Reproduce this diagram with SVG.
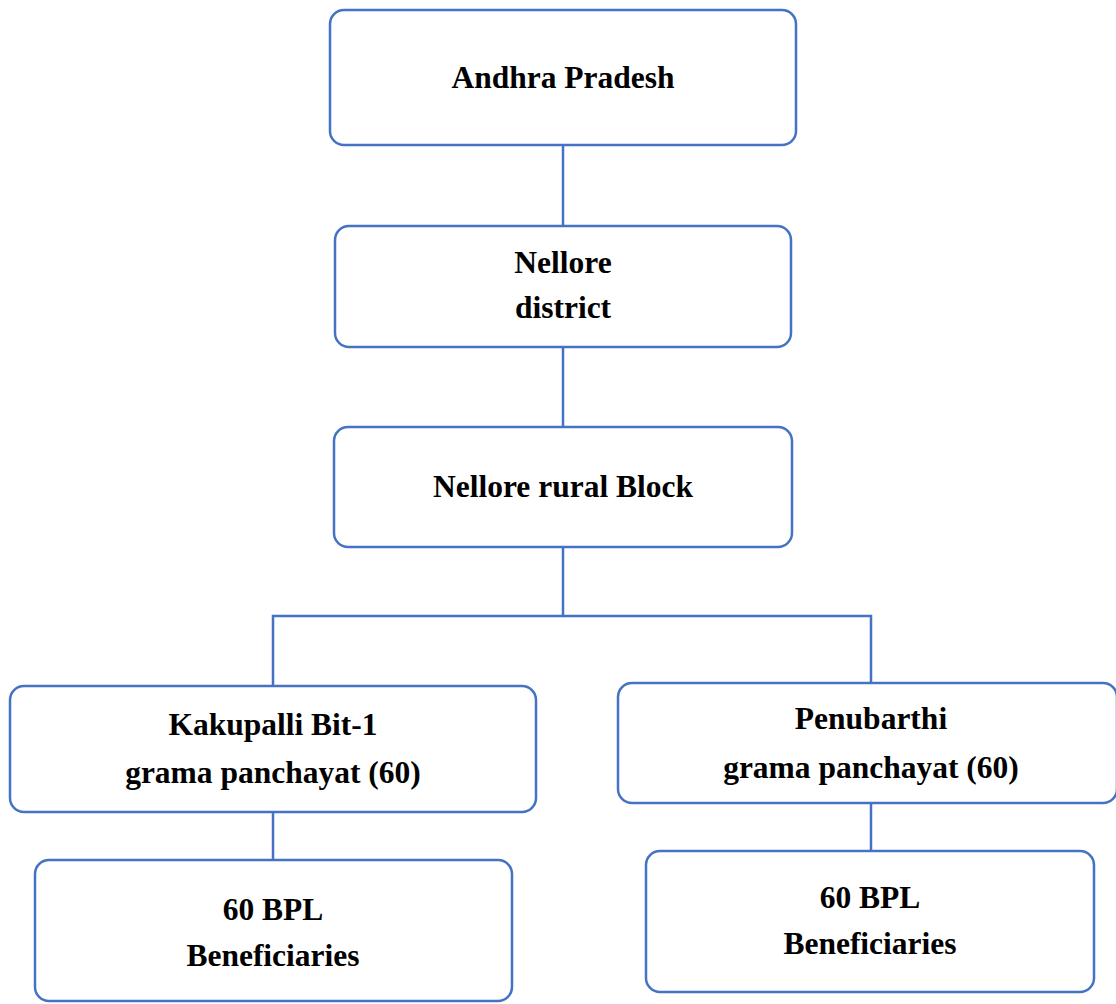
<svg xmlns="http://www.w3.org/2000/svg" width="1116" height="1004" viewBox="0 0 1116 1004">
<style>
.box{fill:#ffffff;stroke:#4472C4;stroke-width:2.5}
.lbl{font-family:"Liberation Serif","Times New Roman",serif;font-weight:bold;font-size:31.5px;fill:#000;text-anchor:middle}
.conn{fill:none;stroke:#4472C4;stroke-width:2.5}
</style>
<rect width="1116" height="1004" fill="#ffffff"/>
<g id="connectors">
<line class="conn" x1="563" y1="145" x2="563" y2="226"/>
<line class="conn" x1="563" y1="347" x2="563" y2="427"/>
<polyline class="conn" points="563,547 563,616 273,616 273,686"/>
<polyline class="conn" points="563,616 871,616 871,683"/>
<line class="conn" x1="273" y1="812" x2="273" y2="860"/>
<line class="conn" x1="871" y1="803" x2="871" y2="851"/>
</g>
<g id="andhra">
<rect class="box" x="330" y="10" width="466" height="135" rx="14"/>
<text class="lbl" x="563" y="88">Andhra Pradesh</text>
</g>
<g id="nellore-district">
<rect class="box" x="335" y="226" width="456" height="121" rx="14"/>
<text class="lbl" x="563" y="273">Nellore</text>
<text class="lbl" x="563" y="318">district</text>
</g>
<g id="nellore-block">
<rect class="box" x="334" y="427" width="458" height="120" rx="14"/>
<text class="lbl" x="563" y="497">Nellore rural Block</text>
</g>
<g id="kakupalli">
<rect class="box" x="10" y="686" width="526" height="126" rx="14"/>
<text class="lbl" x="273" y="735">Kakupalli Bit-1</text>
<text class="lbl" x="273" y="783">grama panchayat (60)</text>
</g>
<g id="penubarthi">
<rect class="box" x="618" y="683" width="499" height="120" rx="14"/>
<text class="lbl" x="871" y="729">Penubarthi</text>
<text class="lbl" x="871" y="778">grama panchayat (60)</text>
</g>
<g id="bpl-left">
<rect class="box" x="35" y="860" width="477" height="141" rx="14"/>
<text class="lbl" x="273" y="920">60 BPL</text>
<text class="lbl" x="273" y="966">Beneficiaries</text>
</g>
<g id="bpl-right">
<rect class="box" x="646" y="851" width="448" height="141" rx="14"/>
<text class="lbl" x="870" y="908">60 BPL</text>
<text class="lbl" x="870" y="954">Beneficiaries</text>
</g>
</svg>
